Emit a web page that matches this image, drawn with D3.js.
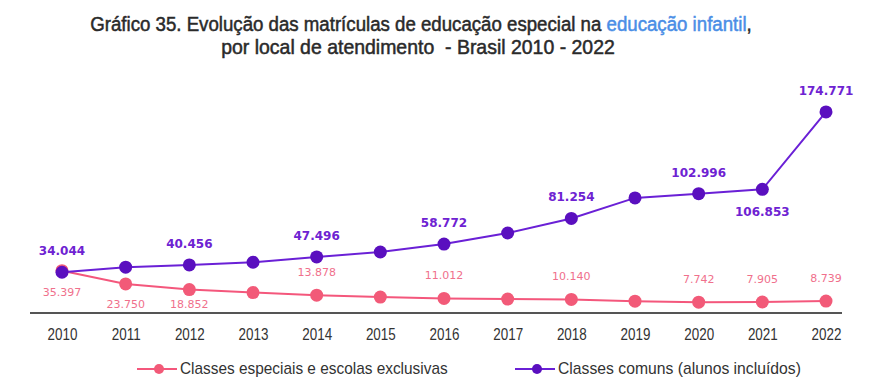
<!DOCTYPE html>
<html>
<head>
<meta charset="utf-8">
<script src="https://cdn.jsdelivr.net/npm/d3@7"></script>
<style>
  body { margin: 0; background: #fff; }
  svg { display: block; }
</style>
</head>
<body>
<div id="chart"></div>
<script>
// data
var years = ["2010","2011","2012","2013","2014","2015","2016","2017","2018","2019","2020","2021","2022"];
var especiais = [35397, 23750, 18852, 16200, 13878, 12200, 11012, 10500, 10140, 8600, 7742, 7905, 8739];
var comuns = [34044, 38500, 40456, 42800, 47496, 51800, 58772, 68500, 81254, 99300, 102996, 106853, 174771];
// which years carry a value label
var especiaisLabeled = ["2010","2011","2012","2014","2016","2018","2020","2021","2022"];
var comunsLabeled = ["2010","2012","2014","2016","2018","2020","2021","2022"];
var seriesNames = ["Classes especiais e escolas exclusivas", "Classes comuns (alunos incluídos)"];

var w = 893, h = 381;
var pinkLine = "#f4577c", pinkDot = "#f25a78", pinkText = "#f0708c";
var purpLine = "#6a20d6", purpDot = "#5a0fbf", purpText = "#6e22d2";
var sans = "'Liberation Sans',Arial,sans-serif";

var svg = d3.select("#chart").append("svg")
    .attr("width", w)
    .attr("height", h);

// squeeze a text horizontally so it fills a given width (narrow font look)
function squeeze(t, cx, width) {
    var cur = t.node().getComputedTextLength();
    var f = width / cur;
    t.attr("transform", "translate(" + cx + ",0) scale(" + f + ",1) translate(" + (-cx) + ",0)");
}

// title
var t1 = svg.append("text")
    .attr("x", 421).attr("y", 31)
    .attr("text-anchor", "middle")
    .attr("font-family", sans)
    .attr("font-size", "20px")
    .attr("fill", "#2a2a2a")
    .attr("stroke", "#2a2a2a")
    .attr("stroke-width", 0.5);
t1.append("tspan").text("Gráfico 35. Evolução das matrículas de educação especial na ");
t1.append("tspan").attr("fill", "#4a8ee6").attr("stroke", "#4a8ee6").text("educação infantil");
t1.append("tspan").text(",");
squeeze(t1, 421, 662);

var t2 = svg.append("text")
    .attr("x", 418).attr("y", 54)
    .attr("text-anchor", "middle")
    .attr("font-family", sans)
    .attr("font-size", "20px")
    .attr("fill", "#2a2a2a")
    .attr("stroke", "#2a2a2a")
    .attr("stroke-width", 0.5)
    .attr("xml:space", "preserve")
    .text("por local de atendimento  - Brasil 2010 - 2022");
squeeze(t2, 418, 394);

var x = d3.scalePoint().domain(years).range([62, 826]);
var y = d3.scaleLinear().domain([0, 180000]).range([311, 106]);

// x axis line
svg.append("line")
    .attr("x1", 30).attr("x2", 842)
    .attr("y1", 313).attr("y2", 313)
    .attr("stroke", "#555")
    .attr("stroke-width", 2);

var xAxis = svg.append("g")
    .attr("transform", "translate(0,313)")
    .call(d3.axisBottom(x).tickSize(0).tickPadding(16));
xAxis.select(".domain").remove();
xAxis.selectAll("text")
    .attr("font-family", sans)
    .attr("font-size", "16px")
    .attr("fill", "#333")
    .attr("transform", "scale(0.84,1)");

var line = d3.line()
    .x(function(d, i) { return x(years[i]); })
    .y(function(d) { return y(d); });

function drawSeries(values, lc, dc) {
    svg.append("path")
        .datum(values)
        .attr("d", line)
        .attr("fill", "none")
        .attr("stroke", lc)
        .attr("stroke-width", 2);
    svg.append("g").selectAll("circle")
        .data(values)
        .enter()
        .append("circle")
        .attr("cx", function(d, i) { return x(years[i]); })
        .attr("cy", function(d) { return y(d); })
        .attr("r", 6.5)
        .attr("fill", dc);
}

drawSeries(especiais, pinkLine, pinkDot);
drawSeries(comuns, purpLine, purpDot);

var fmt = d3.formatLocale({ decimal: ",", thousands: ".", grouping: [3], currency: ["", ""] }).format(",d");

// pink value labels: first three sit below the point
svg.append("g").selectAll("text")
    .data(especiaisLabeled)
    .enter()
    .append("text")
    .attr("text-anchor", "middle")
    .attr("x", function(d) { return x(d); })
    .attr("y", function(d) {
        var v = especiais[years.indexOf(d)];
        return +d <= 2012 ? Math.min(y(v) + 25, 308) : y(v) - 19;
    })
    .attr("font-family", "'DejaVu Sans',Verdana,sans-serif")
    .attr("font-size", "11px")
    .attr("fill", pinkText)
    .text(function(d) { return fmt(especiais[years.indexOf(d)]); });

// purple value labels: 2021 sits below
svg.append("g").selectAll("text")
    .data(comunsLabeled)
    .enter()
    .append("text")
    .attr("text-anchor", "middle")
    .attr("x", function(d) { return x(d); })
    .attr("y", function(d) {
        var v = comuns[years.indexOf(d)];
        return d === "2021" ? y(v) + 27 : y(v) - 17;
    })
    .attr("font-family", "'DejaVu Sans',Verdana,sans-serif")
    .attr("font-weight", "bold")
    .attr("font-size", "12px")
    .attr("fill", purpText)
    .text(function(d) { return fmt(comuns[years.indexOf(d)]); });

// legend
var legend = [
    { name: seriesNames[0], lc: pinkLine, dc: pinkDot, x: 137, tw: 268 },
    { name: seriesNames[1], lc: purpLine, dc: purpDot, x: 515, tw: 243 }
];
legend.forEach(function(l) {
    var g = svg.append("g").attr("transform", "translate(" + l.x + ",369)");
    g.append("line").attr("x1", 0).attr("x2", 40).attr("y1", 0).attr("y2", 0)
        .attr("stroke", l.lc).attr("stroke-width", 2);
    g.append("circle").attr("cx", 22).attr("cy", 0).attr("r", 5).attr("fill", l.dc);
    var t = g.append("text").attr("x", 43).attr("y", 5)
        .attr("font-family", sans)
        .attr("font-size", "16px")
        .attr("fill", "#333")
        .text(l.name);
    t.attr("transform", "scale(" + (l.tw / t.node().getComputedTextLength()) + ",1)")
        .attr("x", 43 * t.node().getComputedTextLength() / l.tw);
});
</script>
</body>
</html>
